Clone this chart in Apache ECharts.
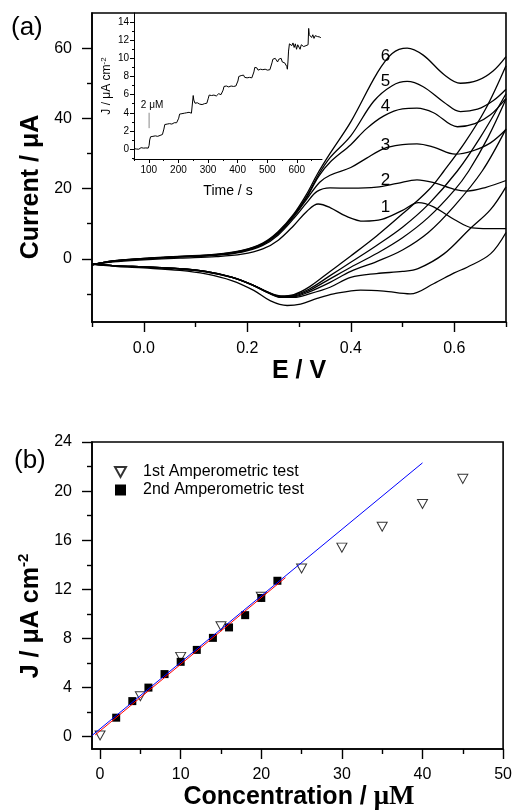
<!DOCTYPE html>
<html>
<head>
<meta charset="utf-8">
<script src="https://cdn.jsdelivr.net/npm/echarts@6/dist/echarts.min.js"></script>
<style>
html, body { margin: 0; padding: 0; background: #fff; }
#chart { width: 515px; height: 811px; }
</style>
</head>
<body>
<div id="chart"></div>
<script>
// (a) cyclic voltammograms: [E / V, Current / uA], forward and reverse sweep of each curve
var cv1Fwd = [[-0.1,-1.7],[-0.06,-0.9],[0.0,-0.3],[0.07,0.2],[0.14,0.6],[0.19,1.3],[0.23,2.8],[0.26,5.3],[0.29,9.5],[0.315,13.5],[0.337,15.6],[0.36,14.6],[0.39,12.2],[0.425,10.7],[0.46,11.2],[0.5,13.8],[0.531,16],[0.56,14.8],[0.6,11.2],[0.635,8.8],[0.665,8.6],[0.7,8.6]];
var cv2Fwd = [[-0.1,-1.7],[-0.06,-0.8],[0.0,-0.1],[0.07,0.5],[0.14,1.0],[0.19,1.9],[0.23,3.8],[0.26,6.8],[0.29,11.5],[0.315,16],[0.335,19.2],[0.36,20.2],[0.4,20.1],[0.45,20.4],[0.49,21.5],[0.528,22.5],[0.56,21.7],[0.6,19.8],[0.625,19.3],[0.66,20.3],[0.7,22.3]];
var cv3Fwd = [[-0.1,-1.7],[-0.06,-0.7],[0.0,0.0],[0.07,0.6],[0.14,1.1],[0.19,2.1],[0.23,4.1],[0.26,7.2],[0.29,12],[0.315,17],[0.34,21.8],[0.36,23.8],[0.4,26],[0.43,28.6],[0.464,31.4],[0.5,32.5],[0.528,32.7],[0.56,31.8],[0.602,29.8],[0.635,30.7],[0.67,33],[0.7,36.8]];
var cv4Fwd = [[-0.1,-1.7],[-0.06,-0.7],[0.0,0.0],[0.07,0.6],[0.14,1.1],[0.19,2.2],[0.23,4.2],[0.26,7.4],[0.29,12.3],[0.315,17.5],[0.338,23.5],[0.36,27.5],[0.4,32.5],[0.43,37],[0.464,40.7],[0.5,42.7],[0.528,42.9],[0.56,41.6],[0.606,37.6],[0.64,38.5],[0.67,41],[0.7,45.7]];
var cv5Fwd = [[-0.1,-1.7],[-0.06,-0.6],[0.0,0.1],[0.07,0.7],[0.14,1.2],[0.19,2.3],[0.23,4.3],[0.26,7.6],[0.29,12.5],[0.315,17.8],[0.338,24],[0.36,28.8],[0.4,35],[0.444,44.8],[0.48,49.3],[0.509,50.5],[0.54,49],[0.58,44.6],[0.612,41.9],[0.645,42.6],[0.675,45],[0.7,48.3]];
var cv6Fwd = [[-0.1,-1.7],[-0.06,-0.6],[0.0,0.1],[0.07,0.7],[0.14,1.3],[0.19,2.4],[0.23,4.5],[0.26,7.8],[0.29,12.8],[0.315,18.5],[0.335,24],[0.36,30],[0.4,39],[0.451,52.9],[0.48,58.5],[0.509,60],[0.54,58],[0.58,52.5],[0.612,50],[0.645,50.8],[0.675,53.5],[0.7,57.6]];

var cv1Rev = [[-0.1,-1.6],[-0.05,-2.2],[0.0,-2.6],[0.07,-3.3],[0.12,-4.3],[0.17,-6.2],[0.2126,-9],[0.245,-12],[0.277,-13.3],[0.303,-12.9],[0.335,-11.3],[0.367,-10],[0.419,-8.9],[0.464,-9.2],[0.515,-10],[0.56,-7.1],[0.6,-4],[0.625,-2.4],[0.67,1.4],[0.7,7.5]];
var cv2Rev = [[-0.1,-1.5],[-0.05,-2.0],[0.0,-2.3],[0.07,-2.9],[0.12,-3.7],[0.17,-5.3],[0.21,-7.5],[0.24,-9.7],[0.265,-11],[0.29,-11],[0.32,-10],[0.36,-8.1],[0.4,-5.3],[0.45,-4.2],[0.5,-3.6],[0.53,-2.8],[0.58,1.4],[0.63,8.5],[0.67,14],[0.7,20.5]];
var cv3Rev = [[-0.1,-1.5],[-0.05,-2.0],[0.0,-2.3],[0.07,-2.9],[0.12,-3.7],[0.17,-5.3],[0.21,-7.5],[0.24,-9.6],[0.265,-10.9],[0.29,-10.8],[0.32,-9.4],[0.36,-6.7],[0.4,-3.6],[0.45,-0.8],[0.5,2.5],[0.55,7.5],[0.6,15],[0.654,25],[0.7,37]];
var cv4Rev = [[-0.1,-1.5],[-0.05,-2.0],[0.0,-2.3],[0.07,-2.8],[0.12,-3.6],[0.17,-5.2],[0.21,-7.4],[0.24,-9.6],[0.265,-10.8],[0.29,-10.6],[0.32,-9.0],[0.36,-5.7],[0.4,-2.4],[0.45,1.5],[0.5,6],[0.55,11.8],[0.6,19.5],[0.628,25],[0.665,34.5],[0.7,45.5]];
var cv5Rev = [[-0.1,-1.5],[-0.05,-2.0],[0.0,-2.3],[0.07,-2.8],[0.12,-3.6],[0.17,-5.2],[0.21,-7.4],[0.24,-9.5],[0.265,-10.7],[0.29,-10.4],[0.32,-8.6],[0.36,-4.8],[0.4,-1.0],[0.45,3.8],[0.5,9],[0.55,15.5],[0.606,25],[0.65,34.5],[0.7,47]];
var cv6Rev = [[-0.1,-1.5],[-0.05,-2.0],[0.0,-2.3],[0.07,-2.8],[0.12,-3.6],[0.17,-5.2],[0.21,-7.4],[0.24,-9.5],[0.265,-10.6],[0.29,-10.2],[0.32,-8.0],[0.36,-3.6],[0.4,0.8],[0.45,6.5],[0.5,12.8],[0.55,19.5],[0.58,25],[0.62,33],[0.66,42.5],[0.7,55]];

var curveLabels = [['1',0.467,14.6],['2',0.467,22.4],['3',0.467,32.4],['4',0.467,43.3],['5',0.467,50.5],['6',0.467,57.6]];

// inset: amperometric response, [Time / s, J / uA cm-2]
var ampData = [[50,0.05],[54,0.12],[58,0.0],[62,0.1],[66,-0.02],[70,0.08],[74,0.15],[78,0.02],[82,0.1],[86,0.0],[90,0.12],[94,0.05],[98,0.1],
  [101,0.4],[103,1.0],[106,1.35],[110,1.5],[114,1.4],[118,1.6],[122,1.45],[126,1.55],[130,1.4],[134,1.6],[138,1.5],[142,1.45],[146,1.6],[149,1.5],
  [151,2.2],[154,2.7],[158,2.85],[162,2.75],[166,2.9],[170,2.8],[174,2.95],[178,2.75],[182,2.85],[186,2.9],[190,2.75],[194,2.9],[198,2.85],
  [201,3.4],[204,3.85],[208,4.0],[212,3.9],[216,4.05],[220,3.95],[224,3.85],[228,4.0],[232,3.9],[236,4.05],[240,3.9],[244,3.95],[248,3.85],
  [250,5.9],[252,5.4],[256,5.05],[260,4.95],[264,5.1],[268,5.0],[272,4.95],[276,5.05],[280,4.9],[284,5.1],[288,5.0],[292,4.95],[296,5.05],[299,5.0],
  [301,5.6],[304,5.95],[308,6.05],[312,5.9],[316,6.1],[320,5.95],[324,6.05],[328,5.85],[332,6.0],[336,6.1],[340,5.9],[344,6.0],[348,5.85],
  [351,6.5],[354,6.9],[358,7.05],[362,6.95],[366,7.0],[370,6.85],[374,7.05],[378,6.95],[382,7.0],[386,6.9],[390,7.05],[394,6.95],[398,7.0],
  [401,7.5],[404,8.0],[408,7.9],[412,8.1],[416,7.95],[420,8.15],[424,7.9],[428,8.0],[432,7.85],[436,8.05],[440,7.9],[444,7.95],[448,7.85],[452,7.9],
  [455,8.5],[458,9.0],[461,8.8],[465,8.95],[469,8.7],[473,8.9],[477,8.8],[481,9.0],[485,8.75],[489,8.9],[493,8.8],[497,8.95],[501,8.7],[505,8.85],[509,8.75],[513,8.9],
  [516,9.5],[519,9.9],[523,9.7],[527,10.0],[531,9.8],[535,9.6],[539,9.9],[543,9.7],[547,10.0],[551,9.6],[555,9.8],[559,9.5],[563,9.7],[566,9.1],[568,8.8],[570,9.6],
  [572,10.8],[575,11.6],[579,11.8],[583,11.4],[587,11.7],[591,11.2],[595,11.6],[599,11.0],[603,11.5],[607,11.3],[611,11.0],[615,11.5],[619,11.6],[623,11.3],[627,11.5],[631,11.4],[635,11.6],[638,11.5],
  [640,13.3],[642,12.6],[646,12.8],[650,12.3],[654,12.6],[658,12.2],[662,12.5],[666,12.3],[670,12.4],[674,12.2],[678,12.35],[681,12.25]];
var ampMarker = [[101,4.0],[101,2.3]];
var ampNote = [[111,4.85]];

// (b) calibration: Concentration / uM vs J / uA cm-2
var conc1 = [0,5,10,15,20,25,30,35,40,45];
var j1 = [0.1,3.3,6.5,9.0,11.4,13.7,15.4,17.1,18.95,21.0];
var conc2 = [2,4,6,8,10,12,14,16,18,20,22];
var j2 = [1.55,2.9,4.0,5.1,6.1,7.07,8.05,8.9,9.9,11.3,12.7];
var fitBlue = [[-1,0.1],[40,22.3]];
var fitRed = [[-0.6,0.15],[23,12.95]];

// ticks
var aXMajor = [0,0.2,0.4,0.6], aXMinor = [-0.1,0.1,0.3,0.5,0.7];
var aYMajor = [0,20,40,60], aYMinor = [-10,10,30,50];
var inXMajor = [100,200,300,400,500,600], inXMinor = [50,150,250,350,450,550,650];
var inYMajor = [0,2,4,6,8,10,12,14], inYMinor = [-1,1,3,5,7,9,11,13];
var bXMajor = [0,10,20,30,40,50], bXMinor = [5,15,25,35,45];
var bYMajor = [0,4,8,12,16,20,24], bYMinor = [2,6,10,14,18,22];

var FONT = "'Liberation Sans', Arial, sans-serif";
var SERIF = "'Liberation Serif', 'Times New Roman', serif";

function axisPair(dim, gridIndex, min, max, majors, minors, o) {
    var pos = dim === 'x' ? 'bottom' : 'left';
    var major = {
        type: 'value', gridIndex: gridIndex, position: pos, min: min, max: max,
        splitLine: { show: false },
        axisLine: { show: true, onZero: false, lineStyle: { color: '#000', width: o.lw } },
        axisTick: { show: true, inside: false, length: o.tick, customValues: majors, lineStyle: { color: '#000', width: o.tw } },
        axisLabel: { show: true, customValues: majors, margin: o.margin, fontSize: o.fs, color: '#000', fontFamily: FONT, formatter: o.fmt }
    };
    var minor = {
        type: 'value', gridIndex: gridIndex, position: pos, min: min, max: max,
        splitLine: { show: false },
        axisLine: { show: false, onZero: false },
        axisTick: { show: true, inside: false, length: o.tick / 2, customValues: minors, lineStyle: { color: '#000', width: o.tw } },
        axisLabel: { show: false }
    };
    return [major, minor];
}

var big = { lw: 1.6, tick: 10, tw: 1.4, fs: 16 };
var small = { lw: 1, tick: 4, tw: 1, fs: 10, margin: 5 };

var xAxes = [].concat(
    axisPair('x', 0, -0.1, 0.7, aXMajor, aXMinor, Object.assign({}, big, { margin: 19, fmt: function (v) { return v.toFixed(1); } })),
    axisPair('x', 1, 50, 685, inXMajor, inXMinor, Object.assign({}, small, { margin: 6 })),
    axisPair('x', 2, -1, 50, bXMajor, bXMinor, Object.assign({}, big, { margin: 18 }))
);
var yAxes = [].concat(
    axisPair('y', 0, -18, 70, aYMajor, aYMinor, Object.assign({}, big, { margin: 20 })),
    axisPair('y', 1, -1.1, 15, inYMajor, inYMinor, Object.assign({}, small, { margin: 5 })),
    axisPair('y', 2, -1, 24, bYMajor, bYMinor, Object.assign({}, big, { margin: 20 }))
);
xAxes[2].name = 'Time / s';
xAxes[2].nameLocation = 'middle';
xAxes[2].nameGap = 25;
xAxes[2].nameTextStyle = { fontSize: 14, fontFamily: FONT, color: '#000' };
yAxes[2].name = '{t|J / μA cm}{s|-2}';
yAxes[2].nameLocation = 'middle';
yAxes[2].nameGap = 20;
yAxes[2].nameTextStyle = { color: '#000', rich: {
    t: { fontSize: 12, fontFamily: FONT, color: '#000', lineHeight: 14 },
    s: { fontSize: 8, fontFamily: FONT, color: '#000', verticalAlign: 'top', lineHeight: 14 }
} };

var cvLine = { color: '#000', width: 1.3 };
var series = [];
[cv1Fwd, cv1Rev, cv2Fwd, cv2Rev, cv3Fwd, cv3Rev, cv4Fwd, cv4Rev, cv5Fwd, cv5Rev, cv6Fwd, cv6Rev].forEach(function (d) {
    series.push({ type: 'line', xAxisIndex: 0, yAxisIndex: 0, data: d, smooth: 0.35, showSymbol: false, lineStyle: cvLine, silent: true });
});
series.push({
    type: 'scatter', xAxisIndex: 0, yAxisIndex: 0, symbolSize: 0, silent: true, itemStyle: { opacity: 1 },
    data: curveLabels.map(function (l) { return { name: l[0], value: [l[1], l[2]] }; }),
    label: { show: true, position: 'inside', formatter: '{b}', fontSize: 17, fontFamily: FONT, color: '#000', opacity: 1 }
});
series.push({ type: 'line', xAxisIndex: 2, yAxisIndex: 2, data: ampData, showSymbol: false, lineStyle: { color: '#000', width: 1 }, silent: true });
series.push({ type: 'line', xAxisIndex: 2, yAxisIndex: 2, data: ampMarker, showSymbol: false, lineStyle: { color: '#888', width: 1 }, silent: true });
series.push({
    type: 'scatter', xAxisIndex: 2, yAxisIndex: 2, data: ampNote, symbolSize: 0, silent: true, itemStyle: { opacity: 1 },
    label: { show: true, position: 'inside', formatter: '2 μM', fontSize: 10, fontFamily: FONT, color: '#000', opacity: 1 }
});
series.push({ type: 'line', xAxisIndex: 4, yAxisIndex: 4, data: fitRed, showSymbol: false, lineStyle: { color: '#ff0000', width: 1 }, silent: true });
series.push({ type: 'line', xAxisIndex: 4, yAxisIndex: 4, data: fitBlue, showSymbol: false, lineStyle: { color: '#0000ff', width: 1 }, silent: true });
series.push({
    name: '1st Amperometric test', type: 'scatter', xAxisIndex: 4, yAxisIndex: 4,
    data: conc1.map(function (c, i) { return [c, j1[i]]; }),
    symbol: 'path://M0,0L10,0L5,9Z', symbolSize: [10, 9],
    itemStyle: { color: 'rgba(255,255,255,0)', borderColor: '#333', borderWidth: 1, opacity: 1 }
});
series.push({
    name: '2nd Amperometric test', type: 'scatter', xAxisIndex: 4, yAxisIndex: 4,
    data: conc2.map(function (c, i) { return [c, j2[i]]; }),
    symbol: 'rect', symbolSize: 8, itemStyle: { color: '#000', opacity: 1 }
});

var option = {
    animation: false,
    backgroundColor: '#fff',
    grid: [
        { left: 92, top: 13, width: 414, height: 309, show: true, borderColor: '#000', borderWidth: 1.6, containLabel: false },
        { left: 134, top: 13, width: 188, height: 146, containLabel: false },
        { left: 92, top: 442, width: 414, height: 307, show: true, borderColor: '#000', borderWidth: 1.6, containLabel: false }
    ],
    xAxis: xAxes,
    yAxis: yAxes,
    legend: {
        data: ['1st Amperometric test', '2nd Amperometric test'],
        orient: 'vertical', left: 109, top: 459, itemWidth: 11, itemHeight: 11, itemGap: 2,
        textStyle: { fontSize: 16, fontFamily: FONT, color: '#000', padding: [0, 0, 0, 12] }
    },
    graphic: [
        { type: 'text', left: 11, top: 15, style: { text: '(a)', font: '26px ' + FONT, fill: '#000' } },
        { type: 'text', left: 14, top: 448, style: { text: '(b)', font: '26px ' + FONT, fill: '#000' } },
        { type: 'text', x: 31, y: 187, rotation: Math.PI / 2,
          style: { text: 'Current / μA', font: 'bold 25px ' + FONT, fill: '#000', align: 'center', verticalAlign: 'middle' } },
        { type: 'text', x: 299, y: 371,
          style: { text: 'E / V', font: 'bold 25px ' + FONT, fill: '#000', align: 'center', verticalAlign: 'middle' } },
        { type: 'text', x: 31, y: 616, rotation: Math.PI / 2,
          style: { text: '{t|J / μA cm}{s|-2}', align: 'center', verticalAlign: 'middle', rich: {
              t: { font: 'bold 25px ' + FONT, fill: '#000', lineHeight: 30 },
              s: { font: 'bold 15px ' + FONT, fill: '#000', verticalAlign: 'top', lineHeight: 30 }
          } } },
        { type: 'text', x: 299, y: 797,
          style: { text: '{t|Concentration / }{m|μM}', align: 'center', verticalAlign: 'middle', rich: {
              t: { font: 'bold 25px ' + FONT, fill: '#000' },
              m: { font: 'bold 27px ' + SERIF, fill: '#000' }
          } } }
    ],
    series: series
};

var myChart = echarts.init(document.getElementById('chart'));
myChart.setOption(option);
</script>
</body>
</html>
